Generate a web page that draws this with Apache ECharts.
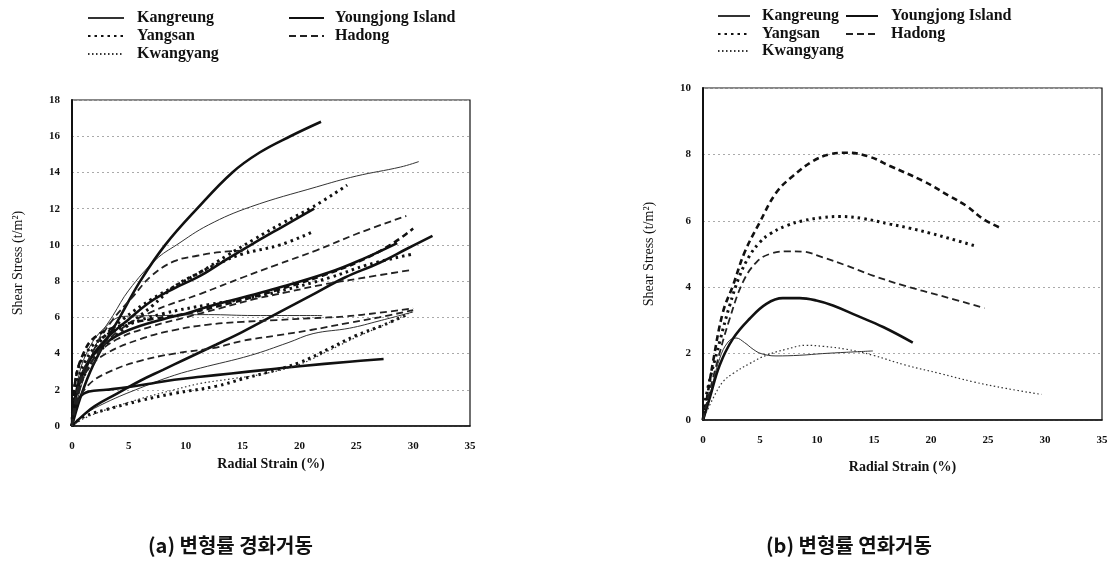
<!DOCTYPE html>
<html>
<head>
<meta charset="utf-8">
<script src="https://cdn.jsdelivr.net/npm/echarts@6/dist/echarts.min.js"></script>
<style>
  html, body { margin: 0; padding: 0; background: #fff; }
  #chart { width: 1113px; height: 566px; }
</style>
</head>
<body>
<div id="chart"></div>
<script>
// ---- data: (a) strain hardening  [radial strain %, shear stress t/m2]
const hardKangreung1 = [[0,0],[0.5,1.5],[1.5,3.5],[2.5,5.0],[3.6,6.1],[5,7.5],[7.4,9.2],[9.2,10.0],[12,11.1],[15.7,12.1],[21.5,13.2],[25,13.8],[28.9,14.3],[30.5,14.6]];
const hardKangreung2 = [[0,0],[1,0.6],[3,1.3],[6,2.1],[9,2.8],[11.3,3.2],[15.7,3.9],[19,4.6],[21.2,5.1],[24.4,5.4],[27,5.8],[30,6.3]];
const hardKangreung3 = [[0,0],[0.5,2.5],[1.5,4.3],[3,5.5],[4.5,6.05],[8,6.1],[12,6.15],[16,6.1],[20,6.1],[22,6.1]];
const hardYoungjong1 = [[0,0],[0.7,1.5],[1.6,3.0],[2.8,4.5],[4.2,6.0],[6.0,8.0],[8.2,10.0],[11,12.0],[14.1,14.0],[16.5,15.1],[19.2,16.0],[21.9,16.8]];
const hardYoungjong2 = [[0,0],[0.5,2.0],[1.5,3.6],[3,4.8],[5,5.9],[7,6.9],[9,7.6],[11.3,8.3],[13.6,9.2],[16,10.1],[18.5,11.0],[21.3,12.0]];
const hardYoungjong3 = [[0,0],[0.5,2.2],[1.5,3.6],[3,4.6],[5,5.3],[8,5.9],[10,6.2],[12,6.6],[15,7.1],[18,7.6],[22.7,8.5],[25.5,9.2],[28.6,10.1]];
const hardYoungjong4 = [[0,0],[1,0.6],[2,1.1],[4,1.8],[6,2.5],[8,3.1],[10,3.7],[12.7,4.5],[15,5.2],[18,6.2],[21,7.2],[24,8.2],[27,9.0],[29.5,9.8],[31.7,10.5]];
const hardYoungjong5 = [[0,0],[0.3,0.9],[0.7,1.6],[1.5,1.9],[3,2.0],[5,2.15],[7,2.35],[9,2.55],[11.3,2.72],[14,2.9],[17,3.1],[20,3.3],[24.4,3.55],[27.4,3.7]];
const hardYangsan1 = [[0,0],[0.4,2.2],[1.2,3.6],[2.5,4.7],[4.5,5.9],[7,7.0],[9,7.7],[11.3,8.5],[13.6,9.4],[16,10.3],[18.5,11.2],[21.2,12.1],[24.2,13.3]];
const hardYangsan2 = [[0,0],[0.5,1.8],[1.5,3.3],[3,4.5],[5,5.6],[7,6.6],[9,7.7],[11,8.4],[13,9.0],[15,9.5],[18.3,10.0],[21.1,10.7]];
const hardYangsan3 = [[0,0],[0.3,2.5],[1,3.8],[2.5,4.8],[5,5.6],[8,6.2],[12,6.7],[15,7.0],[18,7.4],[22.7,8.2],[26,8.9],[30,9.5]];
const hardYangsan4 = [[0,0],[1,0.5],[3,0.9],[6,1.4],[9,1.8],[12.7,2.2],[15,2.6],[17.1,2.95],[20,3.5],[22.7,4.3],[25,5.0],[27.5,5.6],[29.6,6.2]];
const hardHadong1 = [[0,0],[0.7,2.5],[2,4.3],[3.5,5.8],[5.3,7.1],[7,8.3],[9,9.1],[11,9.4],[13,9.6],[15.5,9.7]];
const hardHadong2 = [[0,0],[0.8,2.3],[2,3.8],[4,5.2],[7,6.3],[11.3,7.3],[15,8.2],[18,8.9],[21.5,9.7],[25,10.6],[29.4,11.6]];
const hardHadong3 = [[0,0],[0.5,2.0],[2,3.8],[4,4.8],[7,5.5],[10,6.0],[13,6.5],[16,7.0],[19,7.4],[22,7.8],[25.3,8.15],[29.7,8.6]];
const hardHadong4 = [[0,0],[0.3,2.5],[1,4.0],[2,4.9],[4,5.5],[7,5.9],[10,6.2],[14,6.8],[18,7.5],[22,8.3],[25.3,9.1],[28,10.0],[30,10.9]];
const hardHadong5 = [[0,0],[0.5,2.0],[1.5,3.2],[3,4.0],[6,4.8],[9,5.3],[12,5.6],[15,5.75],[18,5.85],[21,5.95],[24,6.05],[27,6.25],[30,6.5]];
const hardHadong6 = [[0,0],[0.5,1.3],[1.5,2.3],[3.3,3.0],[6,3.6],[9,4.0],[12.4,4.3],[15,4.7],[18,5.0],[21,5.3],[24.4,5.7],[27,6.0],[30,6.4]];
const hardKwangyang1 = [[0,0],[1,0.4],[3,0.9],[6,1.5],[9,2.0],[11.3,2.35],[14,2.6],[17,2.9],[20,3.4],[22.7,4.2],[25,4.9],[27.5,5.6],[29.9,6.3]];

// ---- data: (b) strain softening
const softKangreung = [[0,0],[0.6,0.75],[1.46,1.85],[2.2,2.35],[2.9,2.47],[3.65,2.33],[4.4,2.13],[5.1,2.0],[6.4,1.93],[8.5,1.95],[10.5,2.0],[12.6,2.04],[14.9,2.08]];
const softYoungjong = [[0,0],[0.58,0.65],[1.46,1.65],[2.63,2.45],[4.09,3.05],[5.56,3.5],[7.0,3.67],[8.48,3.67],[9.94,3.6],[11.4,3.45],[13.45,3.15],[15.8,2.8],[18.4,2.33]];
const softYangsan = [[0,0],[0.29,0.75],[1.46,2.35],[2.34,3.45],[3.22,4.35],[4.09,4.95],[4.97,5.35],[5.85,5.6],[7.3,5.85],[8.77,6.0],[10.5,6.1],[12.0,6.13],[14.0,6.07],[16.4,5.9],[18.1,5.78],[19.9,5.63],[21.6,5.47],[24.0,5.23]];
const softHadong1 = [[0,0],[0.15,0.25],[0.88,1.75],[1.75,3.25],[2.63,4.05],[3.65,5.05],[4.97,5.95],[6.43,6.85],[7.89,7.35],[9.65,7.8],[11.1,8.0],[12.6,8.05],[14.6,7.93],[16.4,7.65],[19.3,7.2],[21.6,6.75],[23.1,6.45],[24.6,6.05],[26.0,5.8]];
const softHadong2 = [[0,0],[0.15,0.25],[1.17,1.65],[2.34,3.05],[3.5,4.15],[4.68,4.75],[5.85,5.0],[7.6,5.08],[8.77,5.07],[10.5,4.9],[12.6,4.65],[14.9,4.35],[17.8,4.03],[20.8,3.75],[24.7,3.37]];
const softKwangyang = [[0,0],[0.88,0.65],[1.75,1.15],[2.63,1.4],[4.09,1.7],[5.56,1.95],[7.3,2.13],[9.06,2.25],[10.5,2.22],[12.6,2.13],[14.9,1.95],[17.8,1.65],[20.8,1.4],[23.7,1.15],[26.6,0.95],[29.7,0.77]];

const legendNames = ['Kangreung', 'Youngjong Island', 'Yangsan', 'Hadong', 'Kwangyang'];
const captions = ['(a) 변형률 경화거동', '(b) 변형률 연화거동'];

const serif = 'Liberation Serif';

const styles = {
  'Kangreung': { width: 1, type: 'solid', color: '#333' },
  'Youngjong Island': { width: 2.6, type: 'solid', color: '#111' },
  'Yangsan': { width: 3, type: [2.5, 4], color: '#111' },
  'Hadong': { width: 1.8, type: [7, 4], color: '#222' },
  'Kwangyang': { width: 1.2, type: [1.5, 2.5], color: '#333' }
};
const heavyDash = { width: 2.6, type: [6, 4], color: '#111' };

function line(name, data, idx, lineStyle) {
  const ls = lineStyle || styles[name];
  return {
    type: 'line', name: name, data: data,
    xAxisIndex: idx, yAxisIndex: idx,
    symbol: 'none', smooth: 0.4, silent: true,
    itemStyle: { color: ls.color },
    lineStyle: ls
  };
}

function xAxisCfg(idx, gap) {
  return {
    type: 'value', gridIndex: idx, min: 0, max: 35, interval: 5,
    name: 'Radial Strain (%)', nameLocation: 'middle', nameGap: gap,
    nameTextStyle: { fontFamily: serif, fontWeight: 'bold', fontSize: 14, color: '#111' },
    axisLine: { lineStyle: { color: '#111', width: 1.5 } },
    axisTick: { show: false },
    axisLabel: { fontFamily: serif, fontWeight: 'bold', fontSize: 11, color: '#111', margin: 15 },
    splitLine: { show: false }
  };
}
function yAxisCfg(idx, max, gap) {
  return {
    type: 'value', gridIndex: idx, min: 0, max: max, interval: 2,
    name: 'Shear Stress (t/m²)', nameLocation: 'middle', nameGap: gap,
    nameTextStyle: { fontFamily: serif, fontSize: 14, color: '#111' },
    axisLine: { show: true, lineStyle: { color: '#111', width: 2 } },
    axisTick: { show: false },
    axisLabel: { fontFamily: serif, fontWeight: 'bold', fontSize: 11, color: '#111', margin: 12 },
    splitLine: { show: true, lineStyle: { color: '#aaa', type: [2, 3], width: 1 } }
  };
}

function legendAt(name, left, top, iconW, textGap) {
  return {
    data: [name], left: left, top: top,
    itemWidth: iconW, itemHeight: 12, padding: 0,
    itemStyle: { opacity: 0 },
    textStyle: { fontFamily: serif, fontWeight: 'bold', fontSize: 16, color: '#111', padding: [0, 0, 0, textGap] }
  };
}

const chart = echarts.init(document.getElementById('chart'));
chart.setOption({
  animation: false,
  backgroundColor: '#fff',
  grid: [
    { left: 72, top: 100, width: 398, height: 326, show: true, borderColor: '#111', borderWidth: 1.2 },
    { left: 703, top: 88, width: 399, height: 332, show: true, borderColor: '#111', borderWidth: 1.2 }
  ],
  xAxis: [xAxisCfg(0, 30), xAxisCfg(1, 40)],
  yAxis: [yAxisCfg(0, 18, 47), yAxisCfg(1, 10, 47)],
  legend: [
    legendAt(legendNames[0], 87, 10, 36, 8), legendAt(legendNames[1], 288, 10, 35, 6),
    legendAt(legendNames[2], 87, 28, 36, 8), legendAt(legendNames[3], 288, 28, 35, 6),
    legendAt(legendNames[4], 87, 46, 36, 8),
    legendAt(legendNames[0], 717, 8, 32, 7), legendAt(legendNames[1], 845, 8, 32, 8),
    legendAt(legendNames[2], 717, 26, 32, 7), legendAt(legendNames[3], 845, 26, 32, 8),
    legendAt(legendNames[4], 717, 43, 32, 7)
  ],
  graphic: [
    { type: 'text', left: 148, top: 535, style: { text: captions[0], font: 'bold 20px "Noto Sans CJK KR"', fill: '#111' } },
    { type: 'text', left: 766, top: 535, style: { text: captions[1], font: 'bold 20px "Noto Sans CJK KR"', fill: '#111' } }
  ],
  series: [
    line('Kangreung', hardKangreung1, 0),
    line('Kangreung', hardKangreung2, 0),
    line('Kangreung', hardKangreung3, 0),
    line('Youngjong Island', hardYoungjong1, 0),
    line('Youngjong Island', hardYoungjong2, 0),
    line('Youngjong Island', hardYoungjong3, 0),
    line('Youngjong Island', hardYoungjong4, 0),
    line('Youngjong Island', hardYoungjong5, 0),
    line('Yangsan', hardYangsan1, 0),
    line('Yangsan', hardYangsan2, 0),
    line('Yangsan', hardYangsan3, 0),
    line('Yangsan', hardYangsan4, 0),
    line('Hadong', hardHadong1, 0),
    line('Hadong', hardHadong2, 0),
    line('Hadong', hardHadong3, 0),
    line('Hadong', hardHadong4, 0, heavyDash),
    line('Hadong', hardHadong5, 0),
    line('Hadong', hardHadong6, 0),
    line('Kwangyang', hardKwangyang1, 0),

    line('Kangreung', softKangreung, 1),
    line('Youngjong Island', softYoungjong, 1),
    line('Yangsan', softYangsan, 1),
    line('Hadong', softHadong1, 1, heavyDash),
    line('Hadong', softHadong2, 1),
    line('Kwangyang', softKwangyang, 1)
  ]
});
</script>
</body>
</html>
